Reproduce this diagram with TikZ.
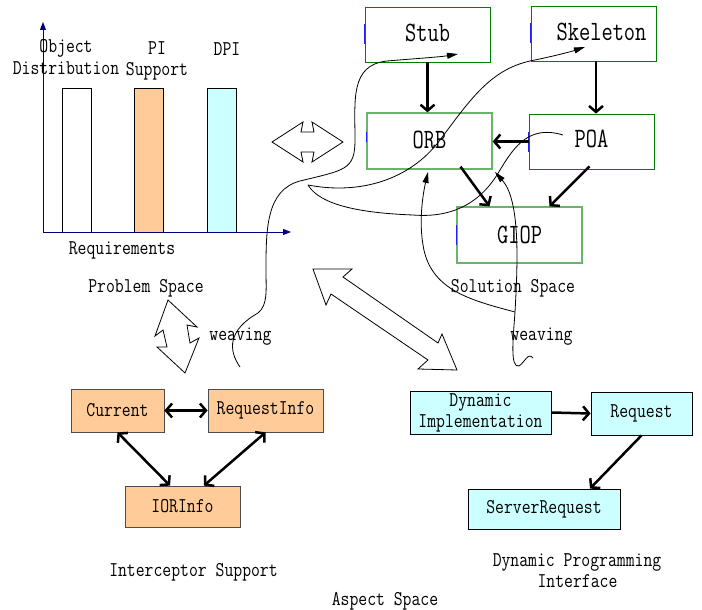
\documentclass[tikz,border=0pt]{standalone}
\usepackage{fontspec}
\setmainfont{Latin Modern Mono}[FakeStretch=0.82]
\newfontfamily\bigfont{Latin Modern Mono}[FakeStretch=0.78]
\usetikzlibrary{arrows.meta,calc}

\definecolor{peach}{RGB}{255,204,153}
\definecolor{paleaqua}{RGB}{204,255,255}
\definecolor{axisblue}{RGB}{0,0,128}
\definecolor{darkgreen}{RGB}{0,128,0}
\definecolor{softgreen}{RGB}{105,180,105}
\definecolor{markblue}{RGB}{30,30,255}

\begin{document}
\begin{tikzpicture}[x=1pt,y=-1pt,
  smallfont/.style={font=\fontsize{21}{21}\selectfont},
  lbl/.style={smallfont, inner sep=0pt, anchor=base},
  ibox/.style={draw=black!70, fill=peach, line width=0.8pt, smallfont, inner sep=0pt},
  dbox/.style={draw=black, fill=paleaqua, line width=0.8pt, smallfont, inner sep=0pt, align=center},
  gbox/.style={draw=darkgreen, line width=0.8pt, font=\bigfont\fontsize{28}{30}\selectfont, inner sep=0pt},
  gboxsoft/.style={gbox, draw=softgreen, line width=1.3pt},
  bolduni/.style={line width=2.5pt, -{Straight Barb[length=6pt,width=14pt,line width=2.5pt]}},
  boldbi/.style={line width=2.5pt, {Straight Barb[length=6pt,width=14pt,line width=2.5pt]}-{Straight Barb[length=6pt,width=14pt,line width=2.5pt]}},
  weave/.style={line width=0.8pt},
  weavetip/.style={weave, -{Triangle[length=11pt,width=6pt]}},
  blockarrow/.style={draw=black, fill=white, line width=0.8pt, line join=miter},
  axis/.style={draw=axisblue, line width=1pt, -{Triangle[length=8pt,width=6pt]}},
  edgetick/.style={draw=markblue, line width=1pt}
]
\useasboundingbox (0,0) rectangle (702,610);

% ---------- problem space: requirements chart ----------
\draw[black, line width=0.8pt, fill=white]     (62,88) rectangle (91,232);
\draw[black, line width=0.8pt, fill=peach]     (134,88) rectangle (163,232);
\draw[black, line width=0.8pt, fill=paleaqua]  (207,88) rectangle (236,232);
\coordinate (origin) at (43,232);
\coordinate (ytop) at (43,22);
\coordinate (xend) at (291,232);
\draw[axis] (origin) -- (ytop);
\draw[axis] (origin) -- (xend);

\node[lbl] (lobj)  at (66,53)  {Object};
\node[lbl] (ldist) at (66,75)  {Distribution};
\node[lbl] (lpi)   at (157,55) {PI};
\node[lbl] (lsup)  at (157,76) {Support};
\node[lbl] (ldpi)  at (227,56) {DPI};
\node[lbl] (lreq)  at (122,254) {Requirements};
\node[lbl] (lprob) at (146,292) {Problem Space};

% ---------- solution space: CORBA core ----------
\node[gbox]     (stub) at (427.5,34.5) [minimum width=125pt, minimum height=55pt] {\raisebox{3pt}{Stub}};
\node[gbox]     (skel) at (593.5,33.5) [minimum width=125pt, minimum height=55pt] {\hspace{16pt}\raisebox{3pt}{Skeleton}};
\node[gboxsoft] (orb)  at (429.5,141)  [minimum width=125pt, minimum height=56pt] {\raisebox{2pt}{ORB}};
\node[gbox]     (poa)  at (591.5,141.5)[minimum width=125pt, minimum height=55pt] {\raisebox{6pt}{POA}\hspace{12pt}};
\node[gboxsoft] (giop) at (519.5,235)  [minimum width=125pt, minimum height=56pt] {GIOP};

\foreach \b in {stub,skel,poa,giop}
  \draw[edgetick] ($(\b.west)+(0,-10)$) -- ($(\b.west)+(0,10)$);
\draw[edgetick] ($(orb.west)+(0,-9)$) -- ($(orb.west)+(0,1)$);

\draw[bolduni] (stub.south) -- (stub.south |- orb.north);
\draw[bolduni] ([xshift=2.5pt]skel.south) -- ([xshift=2.5pt]skel.south |- poa.north);
\draw[bolduni] (poa.west) -- (poa.west -| orb.east);
\draw[bolduni] ([xshift=31pt,yshift=3pt]orb.south) -- ([xshift=-30pt]giop.north);
\draw[bolduni] ([xshift=-2pt,yshift=3pt]poa.south) -- ([xshift=30pt]giop.north);

\node[lbl] (lsol) at (513,292) {Solution Space};

% ---------- interceptor support ----------
\node[ibox] (cur) at (117.5,410.5) [minimum width=93pt,  minimum height=43pt] {Current};
\node[ibox] (ri)  at (265.5,410.5) [minimum width=115pt, minimum height=43pt] {RequestInfo};
\node[ibox] (ior) at (182.5,506.5) [minimum width=115pt, minimum height=41pt] {IORInfo};
\draw[boldbi] (cur.east) -- (ri.west);
\draw[boldbi] (cur.south) -- ([xshift=-12.5pt]ior.north);
\draw[boldbi] (ri.south) -- ([xshift=21.5pt]ior.north);
\node[lbl] (lint) at (193.5,576) {Interceptor Support};

% ---------- dynamic programming interface ----------
\node[dbox] (dyn) at (480.5,412.5) [minimum width=141pt, minimum height=43pt] {Dynamic\\Implementation};
\node[dbox] (req) at (641.5,413.5) [minimum width=101pt, minimum height=43pt] {Request};
\node[dbox] (srv) at (544,509)     [minimum width=152pt, minimum height=40pt] {ServerRequest};
\draw[bolduni] (dyn.east) -- (req.west);
\draw[bolduni] (req.south) -- ([xshift=46pt]srv.north);
\node[lbl] (ldpi1) at (577,566) {Dynamic Programming};
\node[lbl] (ldpi2) at (577.5,587) {Interface};

\node[lbl] (lasp) at (385,605) {Aspect Space};

% ---------- block arrows between the spaces ----------
\draw[blockarrow] (272,142) -- (303,122) -- (301,132) -- (314,132) -- (312,122) -- (343,142)
  -- (312,162) -- (314,152) -- (301,152) -- (303,162) -- cycle;
\draw[blockarrow] (168,300) -- (197,327) -- (187,325) -- (190,343) -- (199,338) -- (185,373)
  -- (157,347) -- (167,347) -- (163,330) -- (155,336) -- cycle;
\draw[blockarrow] (313,269) -- (352,269) -- (343,277) -- (438,343) -- (442,334) -- (457,370)
  -- (418,369) -- (428,360) -- (331,294) -- (326,305) -- cycle;

% ---------- weaving curves ----------
\coordinate (wl)   at (240,367);
\coordinate (stubtip) at (458,54);
\draw[weavetip] (wl) .. controls (228,350) and (228,330) .. (258,313)
  .. controls (268,305) and (266,290) .. (266,270)
  .. controls (266,230) and (266,190) .. (300,181)
  .. controls (345,170) and (355,170) .. (355,140)
  .. controls (355,100) and (350,65) .. (387,61)
  .. controls (410,59) and (440,57) .. (stubtip);

\coordinate (cusp) at (308,185);
\coordinate (skeltip) at (585,47);
\coordinate (poaend) at (563,135);
\draw[weavetip] (cusp) .. controls (360,195) and (410,180) .. (440,140)
  .. controls (470,100) and (490,70) .. (530,61)
  .. controls (550,57) and (570,52) .. (skeltip);
\draw[weave] (poaend) .. controls (530,125) and (515,145) .. (500,170)
  .. controls (480,205) and (450,218) .. (413,215)
  .. controls (360,213) and (320,205) .. (cusp);

\node[lbl] (lwl) at (240.5,340) {weaving};
\node[lbl] (lwr) at (541.5,340) {weaving};

\coordinate (wr) at (533,358);
\coordinate (split) at (515,312);
\coordinate (orbtipa) at (495,172);
\coordinate (orbtipb) at (428,172);
\draw[weave] (wr) .. controls (528,352) and (525,362) .. (519,366)
  .. controls (510,368) and (513,340) .. (split);
\draw[weavetip] (split) .. controls (518,260) and (520,200) .. (orbtipa);
\draw[weavetip] (split) .. controls (470,300) and (430,290) .. (423,245)
  .. controls (418,215) and (425,185) .. (orbtipb);
\end{tikzpicture}
\end{document}
